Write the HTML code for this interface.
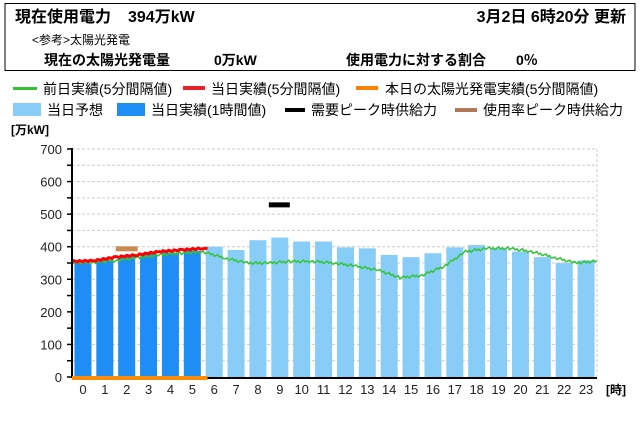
<!DOCTYPE html><html><head><meta charset="utf-8"><style>
body{margin:0;width:640px;height:420px;background:#fff;font-family:"Liberation Sans","Noto Sans CJK JP",sans-serif;overflow:hidden}
</style></head><body>
<svg width="640" height="420" xmlns="http://www.w3.org/2000/svg" font-family="Liberation Sans, Noto Sans CJK JP, sans-serif">
<rect x="5" y="3.5" width="630" height="67" fill="none" stroke="#000" stroke-width="1"/>
<text x="15" y="22" font-size="16" font-weight="bold">現在使用電力</text>
<text x="128" y="22" font-size="16" font-weight="bold">394万kW</text>
<text x="626" y="22" font-size="16" font-weight="bold" text-anchor="end">3月2日  6時20分  更新</text>
<text x="32" y="44" font-size="12">&lt;参考&gt;太陽光発電</text>
<text x="44" y="65" font-size="14" font-weight="bold">現在の太陽光発電量</text>
<text x="214" y="65" font-size="14" font-weight="bold">0万kW</text>
<text x="346" y="65" font-size="14" font-weight="bold">使用電力に対する割合</text>
<text x="516" y="65" font-size="14" font-weight="bold">0％</text>
<g font-size="14">
<rect x="13" y="87" width="24" height="3" fill="#33c433"/><text x="43" y="94">前日実績(5分間隔値)</text>
<rect x="183" y="86" width="22" height="4" fill="#e8202a"/><text x="211" y="94">当日実績(5分間隔値)</text>
<rect x="356" y="86" width="22" height="4" fill="#ff8000"/><text x="385" y="94">本日の太陽光発電実績(5分間隔値)</text>
<rect x="13" y="103" width="28" height="13" fill="#87cdf8"/><text x="47" y="115">当日予想</text>
<rect x="117" y="103" width="28" height="13" fill="#1e8df5"/><text x="151" y="115">当日実績(1時間値)</text>
<rect x="285" y="108" width="20" height="4" fill="#000"/><text x="311" y="115">需要ピーク時供給力</text>
<rect x="455" y="108" width="22" height="4" fill="#b07a5a"/><text x="483" y="115">使用率ピーク時供給力</text>
</g>
<text x="11" y="134" font-size="12" font-weight="bold">[万kW]</text>
<text x="606" y="394" font-size="12" font-weight="bold">[時]</text>
</svg>
<script>
const s='http://www.w3.org/2000/svg',svg=document.querySelector('svg');
function el(t,a,p){const e=document.createElementNS(s,t);for(const k in a)e.setAttribute(k,a[k]);(p||svg).appendChild(e);return e}
const X0=72,X1=597,Y0=377,k=228/700,sw=(X1-X0)/24;
const Y=v=>Y0-v*k,Xh=h=>X0+sw*(h+0.5);
for(let v=50;v<=700;v+=50)el('line',{x1:X0,x2:X1,y1:Y(v),y2:Y(v),stroke:'#ccc','stroke-dasharray':'3,2'});
el('line',{x1:X1,x2:X1,y1:Y(700),y2:Y0,stroke:'#ccc','stroke-dasharray':'3,2'});
const vals=[350,360,370,378,382,388,400,390,420,428,416,416,398,395,375,368,380,398,405,395,385,368,350,358];
vals.forEach((v,i)=>el('rect',{x:Xh(i)-8.5,y:Y(v),width:17,height:v*k,fill:i<6?'#1e8df5':'#87cdf8'}));
for(let v=0;v<=700;v+=100){const t=el('text',{x:62,y:Y(v)+5,'font-size':13,'text-anchor':'end',fill:'#222'});t.textContent=v}
for(let v=0;v<=700;v+=50)el('line',{x1:X0-5,x2:X0,y1:Y(v),y2:Y(v),stroke:'#000','stroke-width':1.5});
for(let i=0;i<24;i++){const t=el('text',{x:Xh(i),y:394,'font-size':13,'text-anchor':'middle',fill:'#222'});t.textContent=i}
const g=[350,352,358,366,375,380,384,365,350,350,355,355,350,340,328,305,312,340,385,395,395,385,368,350,356,354];
let pts=[];for(let i=0;i<g.length-1;i++)for(let j=0;j<12;j++){const h=i-0.5+j/12;if(h>23.5)break;const v=g[i]+(g[i+1]-g[i])*j/12+((j*7+i*3)%5-2)*2;pts.push(Xh(h).toFixed(1)+','+Y(v).toFixed(1))}
el('polyline',{points:pts.join(' '),fill:'none',stroke:'#33c433','stroke-width':1.5});
const r=[355,357,368,375,385,390,395];let rp=[];for(let i=0;i<6;i++)for(let j=0;j<12;j++){const h=i-0.5+j/12+0;const v=r[i]+(r[i+1]-r[i])*j/12+((j*5+i)%3-1)*2;rp.push(Xh(h).toFixed(1)+','+Y(v).toFixed(1))}
rp.push(Xh(5.7).toFixed(1)+','+Y(396).toFixed(1));
el('polyline',{points:rp.join(' '),fill:'none',stroke:'#f00','stroke-width':3});
el('rect',{x:Xh(9)-11,y:Y(530)-2,width:21,height:5,fill:'#000'});
el('rect',{x:Xh(2)-11,y:Y(395)-2,width:22,height:5,fill:'#c88a50'});
el('line',{x1:X0,x2:X0,y1:Y(700)-1,y2:Y0+1,stroke:'#000','stroke-width':2});
el('line',{x1:X0,x2:X1,y1:Y0+1,y2:Y0+1,stroke:'#000','stroke-width':2});
el('rect',{x:X0,y:Y0-1,width:Xh(5.7)-X0,height:4,fill:'#ff8c00'});
</script>
</body></html>
